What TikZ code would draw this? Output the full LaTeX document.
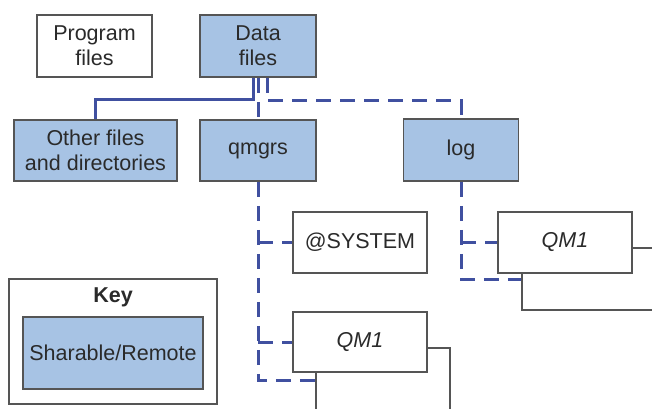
\documentclass[tikz,border=0pt]{standalone}
\usepackage{fontspec}
\setmainfont{Liberation Sans}
\usetikzlibrary{calc}
\definecolor{shfill}{HTML}{A7C3E4}
\definecolor{conblue}{HTML}{4050A0}
\definecolor{boxline}{HTML}{555555}
\definecolor{txt}{HTML}{2A2A2A}
\begin{document}
\begin{tikzpicture}[x=1pt,y=-1pt,
  box/.style={draw=boxline,line width=1.9pt,fill=white,inner sep=0pt,align=center,
    text=txt,font=\fontsize{21.5}{25}\selectfont},
  shared/.style={box,fill=shfill},
  sl/.style={draw=conblue,line width=3pt},
  dl/.style={draw=conblue,line width=3pt,dash pattern=on 15pt off 9pt}]
\useasboundingbox (0,0) rectangle (652,408);
\clip (0,0) rectangle (652,408);
% top level
\node[box,minimum width=115pt,minimum height=62pt] (prog) at (94.5,46) {Program\\files};
\node[shared,minimum width=116pt,minimum height=62pt] (data) at (258,46) {Data\\files};
\node[shared,minimum width=163pt,minimum height=61pt] (other) at (95.5,150.5) {Other files\\and directories};
\node[shared,minimum width=116pt,minimum height=61pt] (qmgrs) at (258,150.5) {qmgrs};
\node[shared,minimum width=115pt,minimum height=62pt] (log) at (461,150) {log};
% qmgrs children
\node[box,minimum width=134pt,minimum height=61pt] (sys) at (360,242.5) {@SYSTEM};
\node[box,minimum width=134pt,minimum height=64pt] (qaback) at (383,380) {};
\node[box,minimum width=134pt,minimum height=60pt] (qa) at (360,342) {\itshape QM1};
% log children
\node[box,minimum width=134pt,minimum height=62pt] (qbback) at (589,279) {};
\node[box,minimum width=134pt,minimum height=61pt] (qb) at (565,242.5) {\itshape QM1};
% key
\node[box,minimum width=208pt,minimum height=125pt] (key) at (113,341.5) {};
\node[text=txt,font=\fontsize{21.5}{25}\selectfont\bfseries,inner sep=0pt] (keylabel) at (113,297) {Key};
\node[shared,minimum width=180pt,minimum height=72pt] (keyshared) at (113,353) {Sharable/Remote};
% connectors
\draw[sl] ($(data.south)+(-5,0)$) -- ($(data.south)+(-5,22)$) -| (other.north);
\draw[dl] (data.south) -- (qmgrs.north);
\draw[dl] ($(data.south)+(9,0)$) -- ($(data.south)+(9,23)$) -| (log.north);
\draw[dl] (qmgrs.south) |- (qaback.west);
\draw[dl] (qmgrs.south |- sys.west) -- (sys.west);
\draw[dl] (qmgrs.south |- qa.west) -- (qa.west);
\draw[dl] (log.south) |- (qbback.west);
\draw[dl] (log.south |- qb.west) -- (qb.west);
\end{tikzpicture}
\end{document}
